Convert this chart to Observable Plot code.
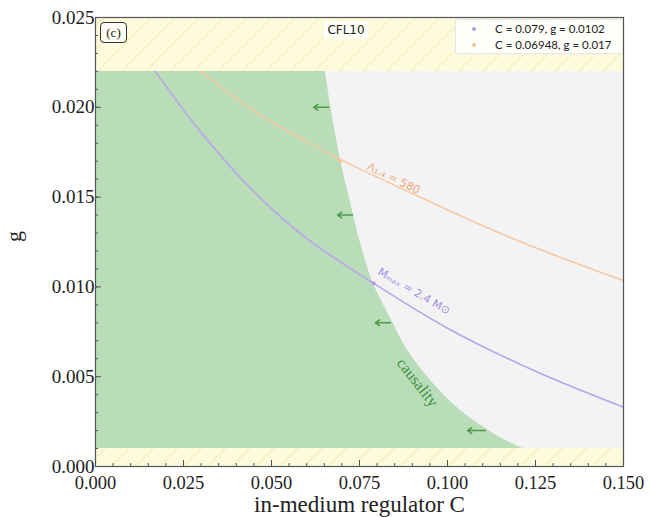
<!DOCTYPE html>
<html>
<head>
<meta charset="utf-8">
<script src="https://cdn.jsdelivr.net/npm/d3@7"></script>
<script src="https://cdn.jsdelivr.net/npm/@observablehq/plot@0.6"></script>
<style>
  html, body { margin: 0; padding: 0; background: #fff; }
  #wrap { position: relative; width: 649px; height: 517px; overflow: hidden; }
  .legend { position: absolute; left: 455px; top: 19px; width: 166px; height: 33px; background: rgba(255,255,255,0.88); border: 1px solid #e6e6e6; border-radius: 2px; font-family: Lato, sans-serif; font-size: 11.5px; color: #222; }
  .legend .row { position: absolute; left: 0; height: 16px; line-height: 16px; white-space: nowrap; }
  .legend .dot { position: absolute; left: 16px; top: 6px; width: 4px; height: 4px; border-radius: 50%; }
  .legend .lab { position: absolute; left: 39px; top: 0; }
  .tag { position: absolute; left: 100px; top: 22px; width: 25px; height: 19px; border: 1.2px solid #333; border-radius: 4px; background: rgba(255,255,255,0.6); font-family: "Liberation Serif", serif; font-size: 13px; line-height: 19px; text-align: center; color: #222; }
  .title { position: absolute; left: 324px; top: 21px; width: 44px; height: 18px; background: rgba(255,255,255,0.85); font-family: "DejaVu Sans", sans-serif; font-size: 12px; line-height: 18px; text-align: center; color: #222; }
</style>
</head>
<body>
<div id="wrap"></div>
<script>
// ---- data ----
// causality boundary: g -> C
const causalityG = [0.001, 0.0015, 0.00217, 0.00329, 0.00479, 0.0059, 0.00702, 0.008, 0.0094, 0.0104, 0.0125, 0.014, 0.017, 0.0195, 0.022];
const causalityC = [0.1216, 0.1160, 0.1104, 0.1027, 0.0952, 0.0907, 0.0870, 0.0845, 0.0808, 0.0785, 0.0752, 0.0733, 0.0697, 0.0673, 0.0653];
// M_max = 2.4 Msun contour
const mmaxC = [0.017, 0.030, 0.045, 0.060, 0.079, 0.100, 0.125, 0.150];
const mmaxG = [0.022, 0.0186, 0.0153, 0.0127, 0.0102, 0.0077, 0.0053, 0.0033];
// Lambda_1.4 = 580 contour
const lamC = [0.0298, 0.045, 0.060, 0.0695, 0.090, 0.110, 0.130, 0.150];
const lamG = [0.022, 0.0198, 0.0181, 0.0171, 0.0152, 0.0134, 0.0118, 0.01035];
// excluded bands (g ranges)
const bandLow = [0.022, 0.0];
const bandHigh = [0.025, 0.001];
// arrows (pointing to lower C)
const arrowG = [0.020, 0.014, 0.008, 0.002];
const arrowCfrom = [0.0663, 0.0730, 0.0838, 0.1108];
const arrowCto = [0.0620, 0.0688, 0.0795, 0.1057];
// intersection points / legend
const ptC = [0.079, 0.06948];
const ptG = [0.0102, 0.017];
const ptLabels = ["C = 0.079, g = 0.0102", "C = 0.06948, g = 0.017"];
const ptColors = ["#b39ae6", "#f7c4a0"];
// tick values
const xTicks = [0, 0.025, 0.05, 0.075, 0.1, 0.125, 0.15];
const yTicks = [0, 0.005, 0.01, 0.015, 0.02, 0.025];

const causality = causalityG.map((g, i) => ({g, C: causalityC[i]}));
const mmax = mmaxC.map((C, i) => ({C, g: mmaxG[i]}));
const lam = lamC.map((C, i) => ({C, g: lamG[i]}));
const bands = bandLow.map((lo, i) => ({lo, hi: bandHigh[i]}));
const arrows = arrowG.map((g, i) => ({g, c1: arrowCfrom[i], c2: arrowCto[i]}));
const pts = ptC.map((C, i) => ({C, g: ptG[i], color: ptColors[i]}));

const xMinor = d3.range(0, 0.1501, 0.005);
const yMinor = d3.range(0, 0.02501, 0.001);

const chart = Plot.plot({
  width: 649,
  height: 517,
  marginLeft: 95,
  marginRight: 26,
  marginTop: 17,
  marginBottom: 51,
  x: {domain: [0, 0.15]},
  y: {domain: [0, 0.025]},
  style: {fontFamily: "'Liberation Serif', serif", background: "#fff"},
  marks: [
    Plot.frame({fill: "#f3f3f3"}),
    Plot.areaX(causality, {y: "g", x1: 0, x2: "C", fill: "#b8ddb8", curve: "catmull-rom"}),
    Plot.rectY(bands, {x1: 0, x2: 0.15, y1: "lo", y2: "hi", fill: "#fdfbdc"}),
    Plot.rectY(bands, {x1: 0, x2: 0.15, y1: "lo", y2: "hi", fill: "url(#hatch)"}),
    Plot.line(lam, {x: "C", y: "g", stroke: "#f7c9a4", strokeWidth: 1.6, curve: "catmull-rom"}),
    Plot.line(mmax, {x: "C", y: "g", stroke: "#b8a5ea", strokeWidth: 1.6, curve: "catmull-rom"}),
    Plot.dot(pts, {x: "C", y: "g", fill: "color", r: 2}),
    Plot.arrow(arrows, {x1: "c1", x2: "c2", y1: "g", y2: "g", stroke: "#4c9a4c", strokeWidth: 1.5, headLength: 5, headAngle: 70}),
    Plot.text(["Λ₁.₄ = 580"], {x: 0.0847, y: 0.01604, rotate: 26, fill: "#f0a67a", fontSize: 11, fontFamily: "'DejaVu Sans', sans-serif"}),
    Plot.text(["Mₘₐₓ = 2.4 M⊙"], {x: 0.0905, y: 0.00975, rotate: 30, fill: "#a58ee0", fontSize: 11, fontFamily: "'DejaVu Sans', sans-serif"}),
    Plot.text(["causality"], {x: 0.0915, y: 0.00468, rotate: 52, fill: "#3e8f3e", fontSize: 16}),
    Plot.axisX(xMinor, {anchor: "bottom", tickSize: -3, text: null, stroke: "#555"}),
    Plot.axisY(yMinor, {anchor: "left", tickSize: -3, text: null, stroke: "#555"}),
    Plot.axisX(xTicks, {anchor: "bottom", tickSize: -6, tickPadding: 15, tickFormat: d3.format(".3f"), fontSize: 18.5, fill: "#222", stroke: "#555", label: null}),
    Plot.axisY(yTicks, {anchor: "left", tickSize: -6, tickPadding: 7, tickFormat: d3.format(".3f"), fontSize: 19, fill: "#222", stroke: "#555", label: null}),
    Plot.text(["in-medium regulator C"], {frameAnchor: "bottom", dy: 45, fontSize: 23, fill: "#222"}),
    Plot.text(["g"], {frameAnchor: "left", dx: -82, rotate: -90, fontSize: 22, fill: "#222"}),
    Plot.frame({stroke: "#555", strokeWidth: 1.2})
  ]
});

// hatch pattern for excluded bands
const svg = d3.select(chart);
const defs = svg.insert("defs", ":first-child");
const pat = defs.append("pattern")
  .attr("id", "hatch")
  .attr("patternUnits", "userSpaceOnUse")
  .attr("width", 17).attr("height", 17)
  .attr("patternTransform", "rotate(45)");
pat.append("line").attr("x1", 0).attr("y1", 0).attr("x2", 0).attr("y2", 17)
  .attr("stroke", "#ece4a4").attr("stroke-width", 1.3);

const wrap = document.getElementById("wrap");
wrap.appendChild(chart);

const tag = document.createElement("div");
tag.className = "tag"; tag.textContent = "(c)";
wrap.appendChild(tag);
const title = document.createElement("div");
title.className = "title"; title.textContent = "CFL10";
wrap.appendChild(title);
const legend = document.createElement("div");
legend.className = "legend";
ptLabels.forEach((t, i) => {
  const row = document.createElement("div");
  row.className = "row"; row.style.top = (1 + i * 16) + "px";
  const dot = document.createElement("span");
  dot.className = "dot"; dot.style.background = ptColors[i];
  const lab = document.createElement("span");
  lab.className = "lab"; lab.textContent = t;
  row.appendChild(dot); row.appendChild(lab);
  legend.appendChild(row);
});
wrap.appendChild(legend);
</script>
</body>
</html>
